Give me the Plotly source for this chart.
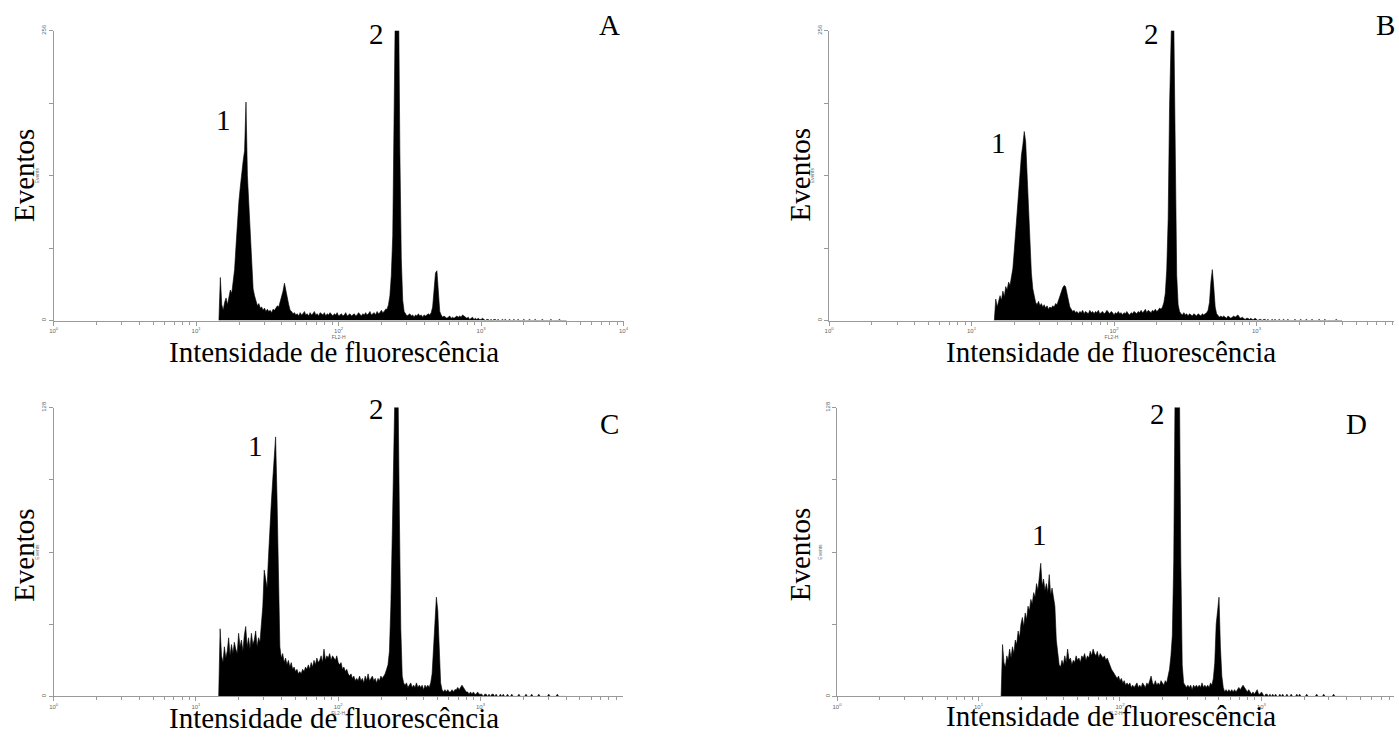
import plotly.graph_objects as go

# ---------------- data (histogram channels, log10 FL2-H from 1.16 in steps of 0.01) ----------
LOG_START = 1.16
LOG_STEP = 0.01

counts_A = [
    0, 38, 14, 9, 16, 20, 14, 22, 27, 24,
    33, 45, 66, 88, 105, 118, 132, 141, 150, 193,
    128, 104, 70, 46, 28, 22, 16, 13, 15, 11,
    12, 9, 11, 8, 10, 8, 9, 7, 10, 9,
    11, 13, 12, 17, 20, 26, 33, 26, 19, 14,
    9, 8, 6, 7, 5, 6, 4, 7, 5, 6,
    8, 5, 6, 4, 7, 5, 6, 8, 5, 6,
    4, 7, 6, 5, 7, 4, 6, 5, 7, 5,
    4, 6, 5, 7, 4, 5, 6, 4, 5, 7,
    4, 5, 6, 4, 5, 6, 4, 5, 7, 5,
    4, 6, 5, 7, 5, 6, 8, 5, 6, 7,
    5, 8, 6, 7, 9, 7, 8, 10, 10, 14,
    22, 40, 75, 165, 300, 300, 300, 150, 55, 18,
    8, 6, 4, 5, 6, 4, 5, 3, 5, 4,
    6, 4, 5, 3, 5, 4, 5, 6, 5, 7,
    12, 30, 42, 44, 22, 8, 5, 3, 4, 3,
    2, 3, 4, 2, 3, 2, 3, 4, 3, 4,
    3, 5, 4, 3, 2, 3, 1, 2, 3, 1,
    2, 1, 2, 1, 1, 2, 1, 0, 1, 1,
    0, 1, 0, 1, 1, 0, 1, 0, 0, 1,
    0, 1, 0, 0, 1, 0, 0, 1, 0, 0,
    1, 0, 0, 0, 1, 0, 0, 0, 1, 0,
    0, 0, 1, 0, 0, 0, 0, 1, 0, 0,
    0, 0, 0, 1, 0, 0, 0, 0, 0, 1,
    0, 0, 0, 0, 0,
]

counts_B = [
    0, 19, 12, 16, 22, 18, 26, 21, 30, 27,
    34, 31, 38, 46, 62, 80, 98, 118, 132, 146,
    155, 167, 158, 128, 96, 66, 42, 28, 20, 16,
    14, 17, 13, 15, 12, 14, 11, 13, 10, 12,
    11, 13, 12, 15, 14, 18, 21, 25, 29, 31,
    30, 24, 17, 12, 10, 8, 9, 7, 8, 6,
    8, 7, 9, 6, 8, 7, 6, 9, 7, 8,
    6, 8, 7, 9, 6, 7, 8, 6, 7, 9,
    7, 6, 8, 7, 5, 7, 6, 8, 6, 7,
    5, 7, 6, 8, 6, 5, 7, 6, 8, 7,
    6, 8, 7, 9, 7, 8, 10, 7, 9, 8,
    7, 9, 8, 10, 8, 9, 11, 10, 12, 16,
    24, 45, 90, 190, 300, 300, 260, 120, 40, 14,
    8, 6, 5, 7, 5, 6, 4, 6, 5, 4,
    6, 5, 4, 6, 5, 4, 6, 5, 6, 7,
    9, 16, 34, 45, 30, 12, 6, 4, 3, 4,
    3, 4, 3, 2, 4, 3, 2, 3, 4, 3,
    4, 5, 3, 2, 3, 2, 1, 2, 2, 1,
    2, 1, 1, 2, 1, 0, 1, 1, 0, 1,
    1, 0, 1, 0, 0, 1, 0, 1, 0, 0,
    1, 0, 0, 1, 0, 0, 1, 0, 0, 0,
    0, 1, 0, 0, 0, 1, 0, 0, 0, 1,
    0, 0, 0, 1, 0, 0, 0, 0, 1, 0,
    0, 0, 1, 0, 0, 0, 0, 0, 0, 0,
    1, 0, 0, 0, 0,
]

counts_C = [
    0, 30, 18, 15, 22, 17, 20, 26, 18, 23,
    19, 24, 21, 19, 28, 22, 25, 20, 27, 31,
    22, 26, 21, 28, 23, 25, 29, 22, 26, 24,
    32, 40, 56, 52, 48, 62, 78, 86, 96, 104,
    115, 88, 46, 22, 17, 19, 15, 17, 14, 16,
    13, 15, 12, 13, 11, 12, 10, 11, 10, 12,
    11, 13, 12, 14, 12, 15, 13, 16, 14, 17,
    15, 16, 18, 15, 21, 16, 18, 17, 19, 16,
    18, 17, 16, 18, 15, 14, 15, 12, 13, 11,
    12, 10, 9, 10, 8, 9, 7, 8, 7, 9,
    7, 8, 6, 9, 7, 10, 7, 8, 9, 7,
    8, 6, 8, 7, 9, 8, 9, 10, 12, 14,
    20, 40, 72, 110, 140, 140, 140, 80, 30, 9,
    6, 5, 6, 4, 5, 6, 4, 5, 4, 6,
    4, 5, 4, 5, 3, 5, 4, 5, 4, 6,
    10, 20, 30, 44, 38, 18, 6, 3, 2, 3,
    2, 3, 2, 2, 3, 2, 3, 3, 4, 3,
    4, 5, 4, 3, 2, 2, 1, 2, 1, 2,
    1, 1, 2, 1, 1, 1, 0, 1, 1, 0,
    1, 0, 1, 1, 0, 1, 0, 0, 1, 0,
    1, 0, 0, 1, 0, 0, 1, 0, 0, 0,
    0, 1, 0, 0, 0, 0, 1, 0, 0, 0,
    1, 0, 0, 0, 0, 1, 0, 0, 0, 0,
    0, 0, 1, 0, 0, 0, 0, 0, 1, 0,
    0, 0, 0, 0, 0,
]

counts_D = [
    0, 23, 15, 13, 18, 16, 21, 17, 22, 19,
    25, 23, 29, 26, 32, 35, 31, 37, 34, 40,
    38, 43, 41, 46, 44, 50, 47, 53, 59, 49,
    52, 47, 50, 46, 54, 45, 48, 44, 40, 25,
    18, 14, 13, 16, 14, 18, 15, 21, 16, 17,
    14, 16, 15, 18, 16, 17, 15, 18, 17, 19,
    16, 18, 17, 20, 18, 21, 19, 18, 20, 17,
    19, 18, 17, 18, 16, 17, 15, 14, 12, 11,
    10, 9, 8, 9, 7, 8, 6, 7, 5, 6,
    5, 6, 4, 5, 4, 5, 6, 4, 5, 4,
    6, 5, 4, 6, 5, 7, 9, 6, 5, 7,
    5, 6, 5, 7, 6, 5, 7, 6, 9, 12,
    18, 27, 60, 140, 140, 140, 140, 60, 14, 6,
    5, 4, 5, 4, 5, 3, 5, 4, 5, 4,
    5, 4, 6, 4, 5, 4, 5, 4, 6, 5,
    8, 15, 32, 40, 44, 22, 9, 4, 2, 3,
    2, 3, 2, 3, 2, 3, 2, 3, 4, 3,
    4, 5, 4, 3, 2, 3, 2, 1, 2, 1,
    2, 3, 1, 1, 2, 1, 0, 1, 1, 0,
    1, 0, 1, 0, 1, 0, 0, 1, 0, 1,
    0, 0, 1, 0, 0, 1, 0, 0, 0, 1,
    0, 1, 0, 0, 0, 0, 1, 0, 0, 0,
    0, 0, 0, 1, 0, 0, 0, 0, 1, 0,
    0, 0, 0, 0, 0, 1, 0, 0, 0, 0,
    0, 0, 0, 0, 0,
]

x_tick_values = [1, 10, 100, 1000, 10000]
x_tick_labels = ["10<sup>0</sup>", "10<sup>1</sup>", "10<sup>2</sup>", "10<sup>3</sup>", "10<sup>4</sup>"]
x_minor_values = [m * 10 ** d for d in range(4) for m in range(2, 10)]
ymax_top = 256
ymax_bottom = 128

panel_letters = ["A", "B", "C", "D"]
x_label = "Intensidade de fluorescência"
y_label = "Eventos"
x_small_title = "FL2-H"
y_small_title = "Events"

# ---------------- layout helpers ----------------
W, H = 1399, 737


def px(x):
    return x / W


def py(y):
    return 1 - y / H


def channels(counts):
    return [10 ** (LOG_START + i * LOG_STEP) for i in range(len(counts))]


# panel geometry in pixels: axis origin, right end, decade width, top, bottom
panels = [
    dict(counts=counts_A, x0=49, x1=623, dec=143.5, top=24, bot=317, ymax=ymax_top),
    dict(counts=counts_B, x0=830, x1=1399, dec=143.5, top=24, bot=317, ymax=ymax_top),
    dict(counts=counts_C, x0=49, x1=622, dec=143.3, top=405, bot=697, ymax=ymax_bottom),
    dict(counts=counts_D, x0=838, x1=1399, dec=142.5, top=405, bot=697, ymax=ymax_bottom),
]

AX = "#9a9a9a"
TF = dict(family="Arial", size=6, color="#666666")

fig = go.Figure()
layout = dict(
    width=W, height=H,
    margin=dict(l=0, r=0, t=0, b=0),
    paper_bgcolor="white", plot_bgcolor="white",
    showlegend=False,
)

for i, p in enumerate(panels):
    n = i + 1
    xa = "x" if n == 1 else f"x{n}"
    ya = "y" if n == 1 else f"y{n}"
    fig.add_trace(go.Scatter(
        x=channels(p["counts"]), y=p["counts"],
        xaxis=xa, yaxis=ya,
        mode="lines", fill="tozeroy",
        line=dict(color="black", width=0.6),
        fillcolor="black", hoverinfo="skip",
    ))
    xr = (p["x1"] - p["x0"]) / p["dec"]
    ym = p["ymax"]
    layout["xaxis" if n == 1 else f"xaxis{n}"] = dict(
        type="log", range=[0, xr], domain=[px(p["x0"]), px(p["x1"])],
        anchor=ya, showline=True, linecolor=AX, linewidth=1,
        ticks="outside", ticklen=4, tickcolor=AX, tickwidth=1,
        tickmode="array", tickvals=x_tick_values, ticktext=x_tick_labels,
        tickfont=TF, showgrid=False, zeroline=False,
        minor=dict(tickmode="array", tickvals=x_minor_values, ticks="outside",
                   ticklen=3, tickcolor=AX, tickwidth=1, showgrid=False),
        title=dict(text=x_small_title, font=dict(family="Arial", size=5, color="#666666"), standoff=1),
    )
    layout["yaxis" if n == 1 else f"yaxis{n}"] = dict(
        range=[0, ym], domain=[py(p["bot"]), py(p["top"])],
        anchor=xa, showline=True, linecolor=AX, linewidth=1,
        ticks="outside", ticklen=4, tickcolor=AX, tickwidth=1,
        tickmode="array", tickvals=[0, ym / 4, ym / 2, 3 * ym / 4, ym],
        ticktext=["0", "", "", "", str(ym)], tickangle=-90,
        tickfont=TF, showgrid=False, zeroline=False,
        title=dict(text=y_small_title, font=dict(family="Arial", size=5, color="#666666"), standoff=1),
    )

fig.update_layout(**layout)

SERIF = dict(family="Liberation Serif, Times New Roman, serif", size=29, color="black")


def note(text, x, y, angle=0):
    fig.add_annotation(text=text, x=px(x), y=py(y), xref="paper", yref="paper",
                       showarrow=False, font=SERIF, textangle=angle,
                       xanchor="center", yanchor="middle")


# big axis labels
note(x_label, 331, 349)
note(x_label, 1114, 349)
note(x_label, 331, 719)
note(x_label, 1114, 717)
note(y_label, 19, 170, -90)
note(y_label, 801, 170, -90)
note(y_label, 19, 554, -90)
note(y_label, 801, 554, -90)

# peak and panel labels
note("1", 220, 114)
note("2", 374, 27)
note(panel_letters[0], 609, 18)
note("1", 1001, 137)
note("2", 1155, 27)
note(panel_letters[1], 1390, 18)
note("1", 252, 444)
note("2", 374, 406)
note(panel_letters[2], 609, 422)
note("1", 1042, 534)
note("2", 1161, 411)
note(panel_letters[3], 1361, 422)

fig.write_html("out.html")
